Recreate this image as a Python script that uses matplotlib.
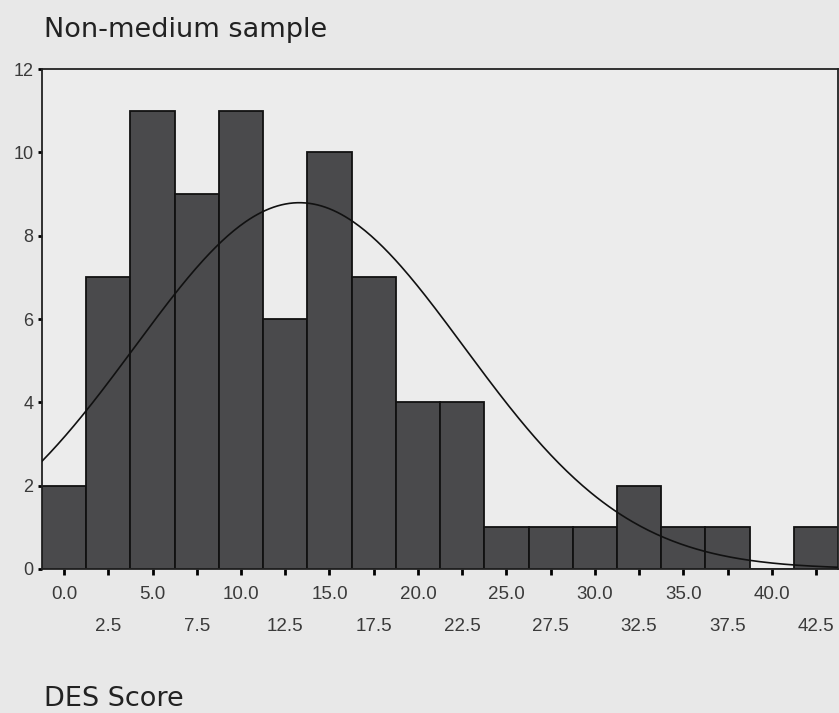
import numpy as np
import matplotlib.pyplot as plt

# DES score histogram, non-medium sample
bin_centers = [0.0, 2.5, 5.0, 7.5, 10.0, 12.5, 15.0, 17.5, 20.0,
               22.5, 25.0, 27.5, 30.0, 32.5, 35.0, 37.5, 40.0, 42.5]
counts = [2, 7, 11, 9, 11, 6, 10, 7, 4, 4, 1, 1, 1, 2, 1, 1, 0, 1]
tick_labels = ['%.1f' % c for c in bin_centers]
bin_width = 2.5

# normal curve overlay
curve_mean = 13.3
curve_sd = 9.3
curve_n = 82

fig = plt.figure(figsize=(8.39, 7.13), dpi=100)
fig.patch.set_facecolor('#e8e8e8')
ax = fig.add_axes([0.050, 0.202, 0.949, 0.701])
ax.set_facecolor('#ececec')

ax.bar(bin_centers, counts, width=bin_width, color='#4a4a4c',
       edgecolor='#111111', linewidth=1.3, zorder=2)

xs = np.linspace(-1.25, 43.75, 400)
ys = curve_n * bin_width / (curve_sd * np.sqrt(2 * np.pi)) * \
    np.exp(-0.5 * ((xs - curve_mean) / curve_sd) ** 2)
ax.plot(xs, ys, color='#111111', linewidth=1.2, zorder=3)

ax.set_xlim(-1.25, 43.75)
ax.set_ylim(0, 12)

# alternate tick labels on two rows
ax.set_xticks(bin_centers[0::2])
ax.set_xticklabels(tick_labels[0::2])
ax.set_xticks(bin_centers[1::2], minor=True)
ax.set_xticklabels(tick_labels[1::2], minor=True)
ax.tick_params(axis='x', which='major', length=4, width=2, pad=8,
               labelsize=13.5, labelcolor='#3a3a3a')
ax.tick_params(axis='x', which='minor', length=4, width=2, pad=31,
               labelsize=13.5, labelcolor='#3a3a3a')
for lab in ax.get_xticklabels() + ax.get_xticklabels(minor=True):
    lab.set_family('Liberation Sans')

ax.set_yticks(range(0, 13, 2))
ax.tick_params(axis='y', length=3, width=2, pad=3, labelsize=13,
               labelcolor='#3a3a3a')
for lab in ax.get_yticklabels():
    lab.set_family('Liberation Sans')

for sp in ax.spines.values():
    sp.set_color('#222222')
    sp.set_linewidth(1.3)

fig.text(0.052, 0.948, 'Non-medium sample', fontsize=19.5, color='#222222',
         family='DejaVu Sans', va='baseline', ha='left')
fig.text(0.052, 0.010, 'DES Score', fontsize=19.5, color='#222222',
         family='DejaVu Sans', va='baseline', ha='left')

fig.savefig('out.png', dpi=100, facecolor=fig.get_facecolor())
